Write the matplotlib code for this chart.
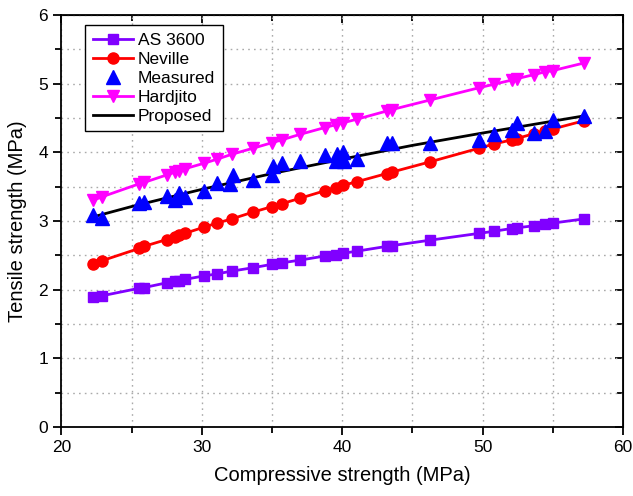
import numpy as np
import matplotlib.pyplot as plt
from matplotlib.ticker import MultipleLocator

plt.rcParams['font.family'] = ['Liberation Sans', 'DejaVu Sans']

# compressive strength of the specimens (MPa)
fc = [22.27, 22.87, 25.53, 25.88, 27.50, 28.09, 28.40, 28.80, 30.16, 31.10,
      32.13, 33.67, 35.02, 35.69, 36.99, 38.77, 39.53, 40.08, 41.03, 43.17,
      43.52, 46.25, 49.77, 50.81, 52.07, 52.43, 53.66, 54.44, 55.03, 57.24]

as3600 = [1.89, 1.91, 2.02, 2.03, 2.10, 2.12, 2.13, 2.15, 2.20, 2.23,
          2.27, 2.32, 2.37, 2.39, 2.43, 2.49, 2.51, 2.53, 2.56, 2.63,
          2.64, 2.72, 2.82, 2.85, 2.89, 2.90, 2.93, 2.95, 2.97, 3.03]

neville = [2.37, 2.42, 2.60, 2.63, 2.73, 2.77, 2.79, 2.82, 2.91, 2.97,
           3.03, 3.13, 3.21, 3.25, 3.33, 3.44, 3.48, 3.52, 3.57, 3.69,
           3.71, 3.86, 4.06, 4.12, 4.18, 4.20, 4.27, 4.31, 4.34, 4.46]

hardjito = [3.30, 3.35, 3.54, 3.56, 3.67, 3.71, 3.73, 3.76, 3.84, 3.90,
            3.97, 4.06, 4.14, 4.18, 4.26, 4.36, 4.40, 4.43, 4.48, 4.60,
            4.62, 4.76, 4.94, 4.99, 5.05, 5.07, 5.13, 5.17, 5.19, 5.30]

meas_x = [22.27, 22.87, 25.53, 25.88, 27.50, 28.09, 28.40, 28.80, 30.16, 31.10,
          32.0, 32.2, 33.67, 35.0, 35.1, 35.69, 36.99, 38.77, 39.53, 39.6,
          40.08, 40.1, 41.03, 43.17, 43.52, 46.25, 49.77, 50.81, 52.07, 52.43,
          53.66, 54.44, 55.03, 57.24]
meas_y = [3.08, 3.05, 3.26, 3.28, 3.36, 3.31, 3.40, 3.35, 3.44, 3.55,
          3.54, 3.67, 3.60, 3.67, 3.80, 3.84, 3.88, 3.96, 3.88, 3.98,
          4.01, 3.87, 3.90, 4.14, 4.14, 4.14, 4.18, 4.27, 4.32, 4.42,
          4.28, 4.31, 4.47, 4.53]

prop_x = [22.27, 25, 30, 35, 40, 45, 50, 57.24]
prop_y = [3.06, 3.21, 3.46, 3.69, 3.90, 4.10, 4.28, 4.53]

fig = plt.figure(figsize=(6.33, 4.96), dpi=100)
ax = fig.add_axes([0.097, 0.139, 0.887, 0.831])

l1, = ax.plot(fc, as3600, color='#8000ff', lw=2, marker='s', ms=7, zorder=3)
l2, = ax.plot(fc, neville, color='#ff0000', lw=2, marker='o', ms=8, zorder=3)
l4, = ax.plot(fc, hardjito, color='#ff00ff', lw=2, marker='v', ms=9, zorder=3)
l5, = ax.plot(prop_x, prop_y, color='black', lw=2, zorder=4)
l3, = ax.plot(meas_x, meas_y, color='#0000ff', ls='none', marker='^', ms=9.5, zorder=5)

ax.set_xlim(20, 60)
ax.set_ylim(0, 6)
ax.xaxis.set_major_locator(MultipleLocator(10))
ax.xaxis.set_minor_locator(MultipleLocator(5))
ax.yaxis.set_major_locator(MultipleLocator(1))
ax.yaxis.set_minor_locator(MultipleLocator(0.5))
ax.grid(True, which='both', ls=(0, (1.2, 3)), color='#aaaaaa', lw=1)
ax.set_axisbelow(True)

ax.tick_params(which='both', direction='out', top=False, right=False, labelsize=12.5, width=1.3)
ax.tick_params(which='major', length=6)
ax.tick_params(which='minor', length=4)
for s in ax.spines.values():
    s.set_linewidth(1.3)

top = ax.secondary_xaxis('top')
top.xaxis.set_major_locator(MultipleLocator(10))
top.xaxis.set_minor_locator(MultipleLocator(5))
top.tick_params(which='both', direction='in', labeltop=False, width=1.3)
top.tick_params(which='major', length=6)
top.tick_params(which='minor', length=4)
right = ax.secondary_yaxis('right')
right.yaxis.set_major_locator(MultipleLocator(1))
right.yaxis.set_minor_locator(MultipleLocator(0.5))
right.tick_params(which='both', direction='in', labelright=False, width=1.3)
right.tick_params(which='major', length=6)
right.tick_params(which='minor', length=4)

ax.set_xlabel('Compressive strength (MPa)', fontsize=14.5, labelpad=8)
ax.set_ylabel('Tensile strength (MPa)', fontsize=14.5, labelpad=8)

leg = ax.legend([l1, l2, l3, l4, l5], ['AS 3600', 'Neville', 'Measured', 'Hardjito', 'Proposed'],
                loc='upper left', bbox_to_anchor=(0.042, 0.976), borderaxespad=0,
                fontsize=12.5, fancybox=False, edgecolor='black', framealpha=1,
                handlelength=2.3, labelspacing=0.22, borderpad=0.45, handletextpad=0.3)
leg.get_frame().set_linewidth(1)

fig.savefig('out.png', dpi=100)
